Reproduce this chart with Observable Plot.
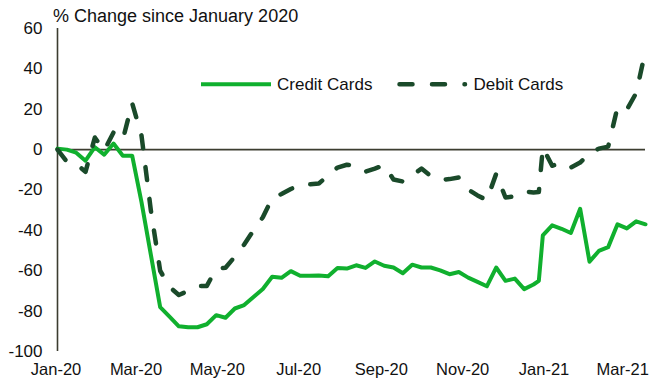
<!DOCTYPE html>
<html>
<head>
<meta charset="utf-8">
<script src="https://cdn.jsdelivr.net/npm/d3@7"></script>
<script src="https://cdn.jsdelivr.net/npm/@observablehq/plot@0.6"></script>
<style>
  html, body { margin: 0; padding: 0; background: #fff; }
  #wrap { position: relative; width: 649px; height: 381px; font-family: "Liberation Sans", Arial, sans-serif; }
  #title { position: absolute; left: 53px; top: 7px; font-size: 18px; line-height: 18px; color: #111; white-space: nowrap; }
  #legend { position: absolute; left: 0; top: 0; pointer-events: none; }
</style>
</head>
<body>
<div id="wrap">
  <div id="chart"></div>
  <div id="title">% Change since January 2020</div>
  <svg id="legend" width="649" height="381" xmlns="http://www.w3.org/2000/svg">
    <line x1="201" x2="271" y1="84.3" y2="84.3" stroke="#10B02E" stroke-width="4"/>
    <text x="277" y="90" font-size="17" font-family="Liberation Sans, Arial, sans-serif" fill="#111">Credit Cards</text>
    <line x1="399.5" x2="465" y1="84.3" y2="84.3" stroke="#1A4A2A" stroke-width="4.5" stroke-dasharray="13 19.5" stroke-linecap="round"/>
    <text x="473.5" y="90" font-size="17" font-family="Liberation Sans, Arial, sans-serif" fill="#111">Debit Cards</text>
  </svg>
</div>
<script>
const dates = [
  "2020-01-01","2020-01-08","2020-01-15","2020-01-22","2020-01-29",
  "2020-02-05","2020-02-12","2020-02-19","2020-02-26",
  "2020-03-04","2020-03-11","2020-03-18","2020-03-25",
  "2020-04-01","2020-04-08","2020-04-15","2020-04-22","2020-04-29",
  "2020-05-06","2020-05-13","2020-05-20","2020-05-27",
  "2020-06-03","2020-06-10","2020-06-17","2020-06-24",
  "2020-07-01","2020-07-08","2020-07-15","2020-07-22","2020-07-29",
  "2020-08-05","2020-08-12","2020-08-19","2020-08-26",
  "2020-09-02","2020-09-09","2020-09-16","2020-09-23","2020-09-30",
  "2020-10-07","2020-10-14","2020-10-21","2020-10-28",
  "2020-11-04","2020-11-11","2020-11-18","2020-11-25",
  "2020-12-02","2020-12-09","2020-12-16","2020-12-23","2020-12-27","2020-12-30",
  "2021-01-06","2021-01-13","2021-01-20","2021-01-27",
  "2021-02-03","2021-02-10","2021-02-17","2021-02-24",
  "2021-03-03","2021-03-10","2021-03-17"
];
const creditCards = [
  0.5, 0, -1.5, -5.5, 1.2, -2.5, 3, -3, -3, -26, -52,
  -78, -82.7, -87.5, -88, -88, -86.5, -82, -83.3, -78.7, -77, -73,
  -69, -63, -63.5, -60.2, -62.5, -62.5, -62.4, -62.7, -58.6, -58.9, -57.3,
  -58.6, -55.4, -57.5, -58.4, -61.2, -57, -58.4, -58.4, -59.8, -61.7, -60.6,
  -63.4, -65.5, -67.7, -58.4, -65, -63.9, -69.1, -66.8,
  -65,
  -42.5, -37.5, -39.2, -41.3, -29.3, -55.5, -50.2, -48.3, -37, -39, -35.5, -37
];
const debitCards = [
  0, -6, -7, -11, 6, -0.5, 8.5, 5, 23, 7, -30,
  -60, -68, -72, -70, -67.5, -67.5, -59, -58.5, -53, -47, -40,
  -33.5, -24, -22, -19.5, -17.4, -17.2, -16.8, -12.8, -8.9, -7.5, -8.1,
  -10.9, -9.4, -7.7, -14.8, -15.8, -12.8, -9.4, -13.1, -15, -14.6, -13.8,
  -19.8, -22.7, -25, -12, -23.7, -23.2, -20.7, -21.2,
  -21,
  1, -8, -6.5, -8.9, -6.4, -2, 0.5, 1.5, 21, 19.8, 28, 49
];
const xTickDates = ["2020-01-01","2020-03-01","2020-05-01","2020-07-01","2020-09-01","2020-11-01","2021-01-01","2021-03-01"];
const yTicks = [-100, -80, -60, -40, -20, 0, 20, 40, 60];
const xDomain = ["2020-01-01", "2021-03-17"];
const yDomain = [-100, 60];

const creditColor = "#10B02E";
const debitColor = "#1A4A2A";
const axisColor = "#3C3D30";

const rows = dates.map((d, i) => ({date: new Date(d), credit: creditCards[i], debit: debitCards[i]}));
const xTicks = xTickDates.map(d => new Date(d));

const hasAxisMarks = typeof Plot.axisX === "function";

const marks = [
  Plot.ruleY([0], {stroke: axisColor, strokeWidth: 1.6}),
  Plot.ruleX([new Date(xDomain[0])], {y1: yDomain[0], y2: yDomain[1], stroke: axisColor, strokeWidth: 1.6}),
  Plot.lineY(rows, {x: "date", y: "credit", stroke: creditColor, strokeWidth: 4, strokeLinejoin: "round"}),
  Plot.lineY(rows, {x: "date", y: "debit", stroke: debitColor, strokeWidth: 4.5, strokeDasharray: "13,19", strokeLinecap: "round", strokeLinejoin: "round"})
];
if (hasAxisMarks) {
  marks.unshift(
    Plot.axisX(xTicks, {tickFormat: d3.utcFormat("%b-%y"), tickSize: 0, tickPadding: 12, fontSize: 16.5, dx: -1.5, label: null}),
    Plot.axisY(yTicks, {tickFormat: d => `${d}`, tickSize: 0, tickPadding: 15, label: null})
  );
}

const chart = Plot.plot({
  width: 649,
  height: 381,
  marginLeft: 57,
  marginRight: 4,
  marginTop: 28,
  marginBottom: 30,
  style: {fontFamily: "'Liberation Sans', Arial, sans-serif", fontSize: "17px", color: "#111", background: "white"},
  x: {
    type: "utc",
    domain: xDomain.map(d => new Date(d)),
    ticks: xTicks,
    tickFormat: d3.utcFormat("%b-%y"),
    tickSize: 0,
    tickPadding: 12,
    label: null
  },
  y: {
    domain: yDomain,
    ticks: yTicks,
    tickFormat: d => `${d}`,
    tickSize: 0,
    tickPadding: 15,
    label: null
  },
  marks
});
document.getElementById("chart").appendChild(chart);
</script>
</body>
</html>
